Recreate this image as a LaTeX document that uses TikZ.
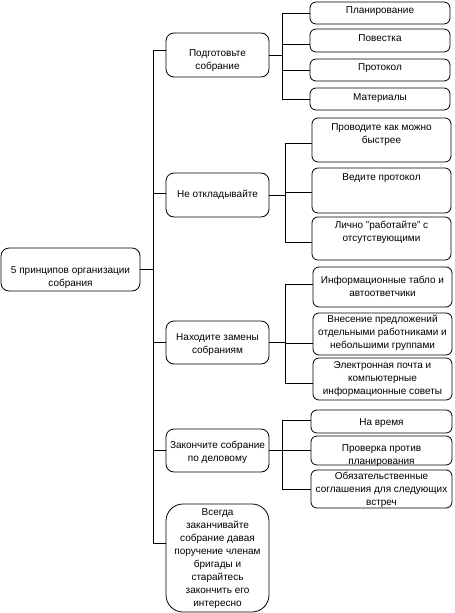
\documentclass[tikz,border=0pt]{standalone}
\usepackage{fontspec}
\setmainfont{Liberation Sans}
\newcommand\tcell[4]{\parbox[c][#2pt][t]{#1pt}{\vspace*{#3pt}\centering\strut #4\par}}
\tikzset{
  box/.style={draw, fill=white, line width=0.8pt, inner sep=0pt, outer sep=0pt,
    font=\fontsize{10}{13}\selectfont},
  rA/.style={box, rounded corners=8pt},
  rB/.style={box, rounded corners=6pt},
  rE/.style={box, rounded corners=17pt},
  conn/.style={line width=0.8pt}
}
\begin{document}
\begin{tikzpicture}[x=1pt, y=-1pt]
\useasboundingbox (0,0) rectangle (455,613);
% root
\node[rA] (root) at (70.5,269.5) {\tcell{139}{43}{16}{5 принципов организации\\собрания}};
% level 1
\node[rA] (A) at (217.5,55) {\tcell{103}{44}{14}{Подготовьте\\собрание}};
\node[rA] (B) at (217.5,195) {\tcell{103}{44}{15}{Не откладывайте}};
\node[rA] (C) at (217.5,342.5) {\tcell{103}{43}{10}{Находите замены\\собраниям}};
\node[rA] (D) at (217.5,450.5) {\tcell{103}{43}{10}{Закончите собрание\\по деловому}};
\node[rE] (E) at (217.5,558) {\tcell{103}{108}{2}{Всегда\\заканчивайте\\собрание давая\\поручение членам\\бригады и\\старайтесь\\закончить его\\интересно}};
% level 2 - A
\node[rB] (A1) at (380,13) {\tcell{140}{22}{2}{Планирование}};
\node[rB] (A2) at (380,40.5) {\tcell{140}{23}{3}{Повестка}};
\node[rB] (A3) at (380,70) {\tcell{140}{22}{2}{Протокол}};
\node[rB] (A4) at (380,99) {\tcell{140}{22}{3}{Материалы}};
% level 2 - B
\node[rB] (B1) at (381.5,140) {\tcell{139}{44}{3}{Проводите как можно\\быстрее}};
\node[rB] (B2) at (381.5,190.5) {\tcell{139}{45}{3}{Ведите протокол}};
\node[rB] (B3) at (381.5,238.5) {\tcell{139}{43}{2}{Лично "работайте" с\\отсутствующими}};
% level 2 - C
\node[rB] (C1) at (382.5,287) {\tcell{139}{40}{7}{Информационные табло и\\автоответчики}};
\node[rB] (C2) at (382.5,334) {\tcell{139}{42}{0}{Внесение предложений\\отдельными работниками и\\небольшими группами}};
\node[rB] (C3) at (382.5,379) {\tcell{139}{42}{1}{Электронная почта и\\компьютерные\\информационные советы}};
% level 2 - D
\node[rB] (D1) at (381.5,421.5) {\tcell{141}{23}{6}{На время}};
\node[rB] (D2) at (381.5,450.5) {\tcell{141}{29}{6}{Проверка против\\планирования}};
\node[rB] (D3) at (381.5,489) {\tcell{141}{38}{0}{Обязательственные\\соглашения для следующих\\встреч}};
% trunk connectors
\draw[conn] (root.east) -- ++(13,0) |- ([yshift=5pt]A.west);
\draw[conn] (root.east) -- ++(13,0) |- ([yshift=2pt]B.west);
\draw[conn] (root.east) -- ++(13,0) |- (C.west);
\draw[conn] (root.east) -- ++(13,0) |- (D.west);
\draw[conn] (root.east) -- ++(13,0) |- ([yshift=15pt]E.west);
% A group
\draw[conn] (A.east) -- ++(13,0) |- (A1.west);
\draw[conn] (A.east) -- ++(13,0) |- ([yshift=-3.5pt]A2.west);
\draw[conn] (A.east) -- ++(13,0) |- (A3.west);
\draw[conn] (A.east) -- ++(13,0) |- (A4.west);
% B group
\draw[conn] (B.east) -- ++(16,0) |- ([yshift=-3pt]B1.west);
\draw[conn] (B.east) -- ++(16,0) |- ([yshift=-1.5pt]B2.west);
\draw[conn] (B.east) -- ++(16,0) |- ([yshift=-3.5pt]B3.west);
% C group
\draw[conn] (C.east) -- ++(16,0) |- ([yshift=3pt]C1.west);
\draw[conn] (C.east) -- ++(16,0) |- ([yshift=-9pt]C2.west);
\draw[conn] (C.east) -- ++(16,0) |- ([yshift=-4pt]C3.west);
% D group
\draw[conn] (D.east) -- ++(13,0) |- ([yshift=1.5pt]D1.west);
\draw[conn] (D.east) -- ++(13,0) |- (D2.west);
\draw[conn] (D.east) -- ++(13,0) |- (D3.west);
\end{tikzpicture}
\end{document}
